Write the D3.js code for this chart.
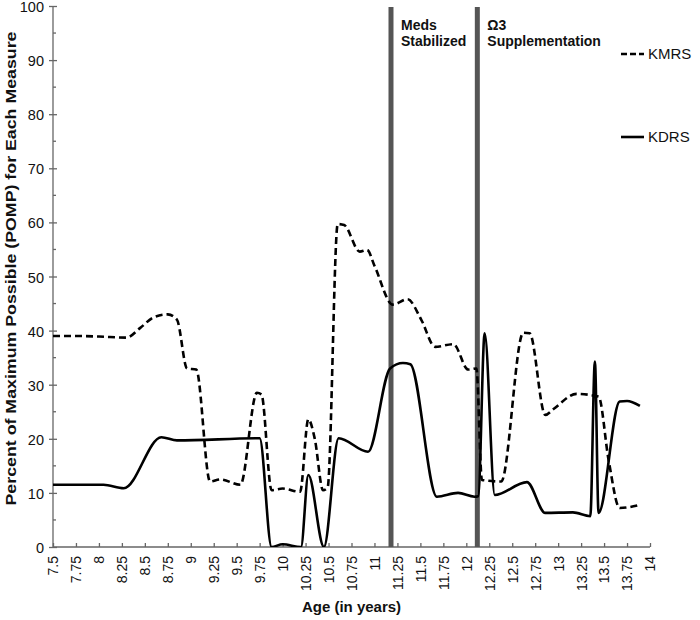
<!DOCTYPE html>
<html>
<head>
<meta charset="utf-8">
<script src="https://cdn.jsdelivr.net/npm/d3@7"></script>
<style>
  body { margin: 0; background: #fff; }
  text { font-family: "Liberation Sans", Arial, sans-serif; fill: #111; }
  .axis path, .axis line { stroke: #666; stroke-width: 1.3; }
</style>
</head>
<body>
<div id="chart"></div>
<script>
// ages (years) and POMP values
var kmrsAge = [7.5, 7.75, 8.0, 8.3, 8.45, 8.6, 8.75, 8.85, 8.96, 9.06, 9.21, 9.32, 9.54, 9.72, 9.77, 9.88, 10.0, 10.19, 10.28, 10.35, 10.44, 10.49, 10.6, 10.67, 10.84, 10.92, 11.0, 11.2, 11.36, 11.51, 11.66, 11.86, 12.02, 12.11, 12.17, 12.38, 12.62, 12.69, 12.86, 12.95, 13.2, 13.44, 13.55, 13.67, 13.89];
var kmrsVal = [39.0, 39.0, 38.9, 38.7, 40.5, 42.5, 43.0, 42.0, 33.0, 32.8, 12.1, 12.5, 11.5, 28.5, 28.2, 10.5, 10.8, 10.2, 23.6, 20, 10.5, 11, 59.7, 59.5, 54.6, 54.9, 52, 44.8, 45.8, 42, 37.0, 37.5, 32.8, 33.0, 12.4, 12.1, 39.6, 39.5, 24.4, 25.5, 28.3, 27.8, 16, 7.2, 7.8];

var kdrsAge = [7.5, 8.05, 8.27, 8.68, 8.85, 9.75, 9.88, 10.0, 10.2, 10.28, 10.45, 10.61, 10.93, 11.17, 11.31, 11.39, 11.68, 11.91, 12.09, 12.13, 12.2, 12.31, 12.66, 12.86, 13.16, 13.35, 13.4, 13.44, 13.67, 13.75, 13.89];
var kdrsVal = [11.5, 11.5, 10.85, 20.3, 19.7, 20.1, 0, 0.5, 0, 13.3, 0, 20.1, 17.6, 33.0, 34.0, 33.8, 9.3, 10.0, 9.3, 9.4, 39.5, 9.6, 12.0, 6.3, 6.4, 5.7, 34.3, 6.3, 26.9, 27.0, 26.1];

var xTicks = d3.range(7.5, 14.001, 0.25);
var yTicks = [0, 10, 20, 30, 40, 50, 60, 70, 80, 90, 100];
var yMinor = [5, 15, 25, 35, 45, 55, 65, 75, 85, 95];

var events = [
  { age: 11.18, lines: ["Meds", "Stabilized"] },
  { age: 12.12, lines: ["\u03A93", "Supplementation"] }
];
var seriesNames = ["KMRS", "KDRS"];

var width = 700, height = 620;
var margin = { top: 6, right: 50, bottom: 73, left: 53 };

var svg = d3.select("#chart").append("svg")
  .attr("width", width)
  .attr("height", height);

var xScale = d3.scaleLinear().domain([7.5, 14]).range([margin.left, width - margin.right]);
var yScale = d3.scaleLinear().domain([0, 100]).range([height - margin.bottom, margin.top]);

svg.append("defs").append("clipPath").attr("id", "plotClip")
  .append("rect")
  .attr("x", margin.left).attr("y", margin.top - 2)
  .attr("width", width - margin.left - margin.right)
  .attr("height", height - margin.top - margin.bottom + 2);

// y axis with major ticks crossing the line
var yAxis = d3.axisLeft(yScale).tickValues(yTicks).tickSize(4).tickPadding(5).tickFormat(d3.format("d"));
var yG = svg.append("g").attr("class", "axis")
  .attr("transform", "translate(" + margin.left + ",0)")
  .call(yAxis);
yG.select(".domain").attr("d", "M0," + yScale(100) + "V" + yScale(0));
yG.selectAll(".tick line").attr("x1", 4);
yG.selectAll(".tick text").style("font-size", "14.5px").attr("dy", "0.38em");

yG.selectAll(".minor").data(yMinor).enter().append("line")
  .attr("class", "minor")
  .attr("x1", 0).attr("x2", 3)
  .attr("y1", function(d) { return yScale(d); })
  .attr("y2", function(d) { return yScale(d); });

// x axis, ticks pointing up, labels rotated
var xAxis = d3.axisBottom(xScale).tickValues(xTicks).tickSize(0).tickFormat(function(d) { return String(+d.toFixed(2)); });
var xG = svg.append("g").attr("class", "axis")
  .attr("transform", "translate(0," + yScale(0) + ")")
  .call(xAxis);
xG.select(".domain").attr("d", "M" + xScale(7.5) + ",0H" + xScale(14));
xG.selectAll(".tick line").attr("y2", -4);
xG.selectAll(".tick text")
  .style("font-size", "14px")
  .attr("transform", "rotate(-90)")
  .attr("text-anchor", "end")
  .attr("x", -9)
  .attr("y", 0)
  .attr("dy", "0.35em");

// event bars
svg.selectAll(".eventBar").data(events).enter().append("line")
  .attr("class", "eventBar")
  .attr("x1", function(d) { return xScale(d.age); })
  .attr("x2", function(d) { return xScale(d.age); })
  .attr("y1", yScale(100) + 1)
  .attr("y2", yScale(0))
  .attr("stroke", "#555")
  .attr("stroke-width", 5);

events.forEach(function(ev) {
  var t = svg.append("text")
    .attr("x", xScale(ev.age) + 10)
    .attr("y", 30)
    .style("font-size", "14px")
    .style("font-weight", "bold");
  ev.lines.forEach(function(s, i) {
    t.append("tspan").attr("x", xScale(ev.age) + 10).attr("dy", i === 0 ? 0 : 16).text(s);
  });
});

// lines
var line = d3.line()
  .x(function(d) { return xScale(d[0]); })
  .y(function(d) { return yScale(d[1]); })
  .curve(d3.curveMonotoneX);

var plot = svg.append("g").attr("clip-path", "url(#plotClip)");

plot.append("path")
  .datum(d3.zip(kmrsAge, kmrsVal))
  .attr("fill", "none")
  .attr("stroke", "#000")
  .attr("stroke-width", 2.6)
  .attr("stroke-dasharray", "7,4")
  .attr("d", line);

plot.append("path")
  .datum(d3.zip(kdrsAge, kdrsVal))
  .attr("fill", "none")
  .attr("stroke", "#000")
  .attr("stroke-width", 2.6)
  .attr("stroke-linejoin", "round")
  .attr("d", line);

// legend
var legendY = [54, 137];
seriesNames.forEach(function(name, i) {
  svg.append("line")
    .attr("x1", 621).attr("x2", 644)
    .attr("y1", legendY[i]).attr("y2", legendY[i])
    .attr("stroke", "#000")
    .attr("stroke-width", 2.6)
    .attr("stroke-dasharray", i === 0 ? "6,3" : null);
  svg.append("text")
    .attr("x", 648)
    .attr("y", legendY[i] + 5)
    .style("font-size", "15px")
    .text(name);
});

// axis titles
svg.append("text")
  .attr("x", (xScale(7.5) + xScale(14)) / 2)
  .attr("y", 612)
  .attr("text-anchor", "middle")
  .style("font-size", "15px")
  .style("font-weight", "bold")
  .text("Age (in years)");

svg.append("text")
  .attr("transform", "translate(16," + (yScale(50) - 8) + ")rotate(-90)")
  .attr("text-anchor", "middle")
  .style("font-size", "15px")
  .style("font-weight", "bold")
  .attr("textLength", 474)
  .attr("lengthAdjust", "spacingAndGlyphs")
  .text("Percent of Maximum Possible (POMP) for Each Measure");
</script>
</body>
</html>
